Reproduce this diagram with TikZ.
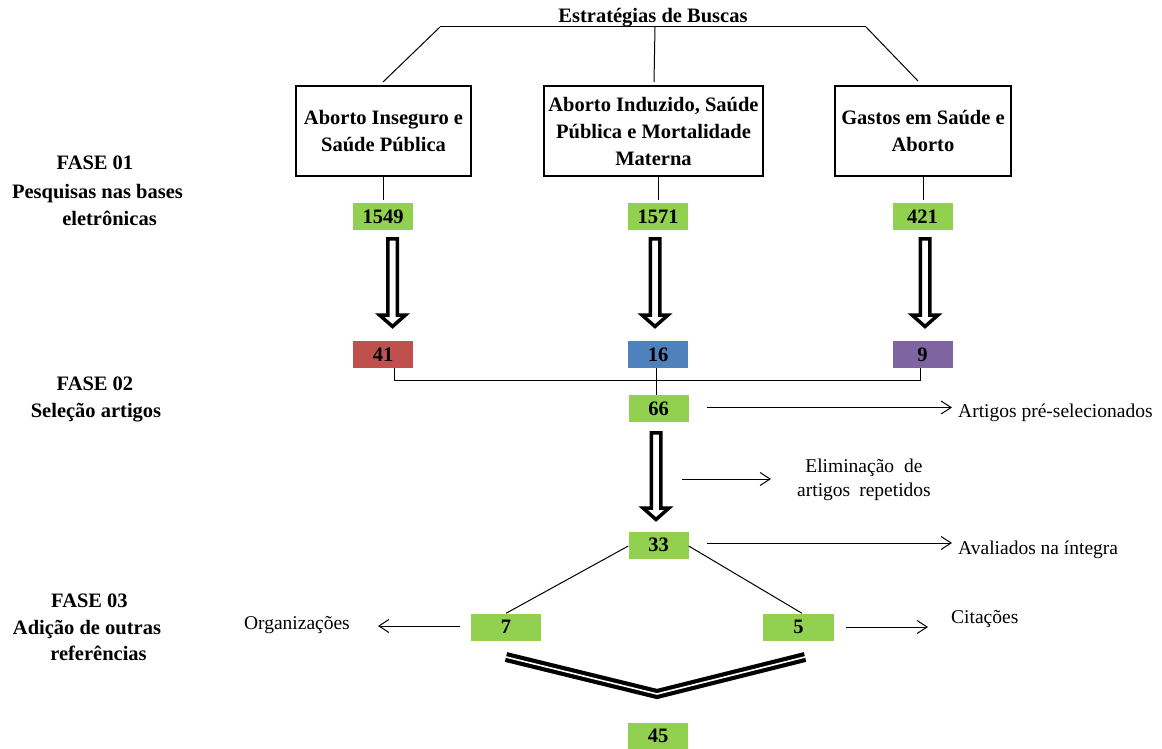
\documentclass[tikz,border=0pt]{standalone}
\usepackage{fontspec}
\setmainfont{Liberation Serif}
\usetikzlibrary{arrows.meta,calc}
\definecolor{gr}{HTML}{92D050}
\definecolor{rd}{HTML}{C0504D}
\definecolor{bl}{HTML}{4F81BD}
\definecolor{pu}{HTML}{8064A2}
\newcommand\bfs{\fontsize{20.5}{27}\selectfont\bfseries}
\newcommand\rgs{\fontsize{19.5}{24}\selectfont}
\newcommand\hollowarrow[3]{\draw[hollow] ({#1-4.75},{#2+1.75}) -- ({#1+4.75},{#2+1.75}) -- ({#1+4.75},{#3-14}) -- ({#1+13},{#3-14}) -- ({#1},{#3-2.5}) -- ({#1-13},{#3-14}) -- ({#1-4.75},{#3-14}) -- cycle;}
\tikzset{
  boxs/.style={draw, line width=2pt, minimum width=#1, minimum height=90pt, align=center, font=\bfs, inner sep=2pt},
  num/.style={fill=#1, minimum width=60pt, minimum height=27pt, inner sep=0pt, font=\bfs},
  bold/.style={font=\bfs, inner sep=0pt},
  lbl/.style={font=\rgs, inner sep=0pt},
  arr/.style={line width=1pt, -{Straight Barb[length=10pt,width=13pt]}},
  conn/.style={line width=1pt},
  hollow/.style={draw, line width=3.5pt, fill=white, line join=miter},
  dbl/.style={double, double distance=1.6pt, line width=4.2pt, line join=miter}
}
\begin{document}
\begin{tikzpicture}[x=1pt,y=-1pt]
\path[fill=white] (0,0) rectangle (1162,749);
\useasboundingbox (0,0) rectangle (1162,749);

% title and top tree
\node[bold, anchor=base] (title) at (653,23) {Estratégias de Buscas};
\coordinate (tl) at (440,27);
\coordinate (tm) at (655,27);
\coordinate (tr) at (866,27);
\coordinate (c1) at (383,82);
\coordinate (c2) at (654,82);
\coordinate (c3) at (918,81);
\draw[conn] (tl) -- (tr);
\draw[conn] (tl) -- (c1);
\draw[conn] (tm) -- (c2);
\draw[conn] (tr) -- (c3);

% strategy boxes
\node[boxs=175pt] (box1) at (383.5,131) {Aborto Inseguro e\\Saúde Pública};
\node[boxs=219pt] (box2) at (653.5,131) {Aborto Induzido, Saúde\\Pública e Mortalidade\\Materna};
\node[boxs=176pt] (box3) at (923,131) {Gastos em Saúde e\\Aborto};

% search counts
\node[num=gr] (n1549) at (383,216.5) {1549};
\node[num=gr] (n1571) at (658,216.5) {1571};
\node[num=gr] (n421) at (922.5,216.5) {421};
\draw[conn, shorten >=3pt] (box1.south) -- (box1.south |- n1549.north);
\draw[conn, shorten >=3pt] (box2.south -| n1571.north) -- (n1571.north);
\draw[conn, shorten >=3pt] (box3.south) -- (box3.south |- n421.north);

% hollow arrows
\hollowarrow{392.5}{237}{329}
\hollowarrow{655}{237}{329}
\hollowarrow{925}{237}{329}

% selected counts
\node[num=rd] (n41) at (383,354.5) {41};
\node[num=bl] (n16) at (658,354.5) {16};
\node[num=pu] (n9) at (922.5,354.5) {9};
\node[num=gr] (n66) at (658.5,408.5) {66};
\draw[conn] ($(n41.south)+(11,0)$) -- ++(0,12) -| ($(n9.south)+(-2.5,0)$);
\draw[conn] ($(n16.south)+(-2,0)$) -- ($(n66.north)+(-2.5,0)$);

\node[lbl, anchor=base west] (presel) at (958,417) {Artigos pré-selecionados};
\draw[arr] ($(n66.east)+(18,-1)$) -- ($(presel.west |- n66.east)+(-6,-1)$);

\hollowarrow{656}{431}{522}
\node[lbl, align=center, anchor=west] (elim) at (797,480) {Eliminação\hspace{10pt}de\\artigos\hspace{9pt}repetidos};
\coordinate (e0) at (682,479);
\draw[arr] (e0) -- ($(elim.west |- e0)+(-26,0)$);

\node[num=gr] (n33) at (658.5,545) {33};
\node[lbl, anchor=base west] (aval) at (958,554) {Avaliados na íntegra};
\draw[arr] ($(n33.east)+(18,-2)$) -- ($(aval.west |- n33.east)+(-6,-2)$);

% phase 3
\node[num=gr, minimum width=70pt] (n7) at (506,627) {7};
\node[num=gr, minimum width=71pt] (n5) at (798.5,627) {5};
\draw[conn] ($(n33.west)+(0,1)$) -- (n7.north);
\draw[conn] ($(n33.east)+(0,1)$) -- ($(n5.north)+(3.5,0)$);

\node[lbl, anchor=base east] (org) at (350,629) {Organizações};
\draw[arr, shorten >=28pt] ($(n7.west)+(-11,-1)$) -- (org.east |- 0,626);
\node[lbl, anchor=base west] (cit) at (951,623) {Citações};
\draw[arr] ($(n5.east)+(12,0)$) -- ($(cit.west |- n5.east)+(-23,0)$);

\coordinate (ch1) at (506,657);
\coordinate (ch2) at (657,694);
\coordinate (ch3) at (805,657);
\draw[dbl] (ch1) -- (ch2) -- (ch3);

\node[num=gr] (n45) at (658,736) {45};

% phase labels
\node[bold, anchor=base] (f1a) at (95,170) {FASE 01};
\node[bold, anchor=base] (f1b) at (97.5,198) {Pesquisas nas bases};
\node[bold, anchor=base] (f1c) at (109.5,225) {eletrônicas};
\node[bold, anchor=base] (f2a) at (95,390) {FASE 02};
\node[bold, anchor=base] (f2b) at (96,417) {Seleção artigos};
\node[bold, anchor=base] (f3a) at (89.5,607) {FASE 03};
\node[bold, anchor=base] (f3b) at (87,634) {Adição de outras};
\node[bold, anchor=base] (f3c) at (98.5,660) {referências};
\end{tikzpicture}
\end{document}
